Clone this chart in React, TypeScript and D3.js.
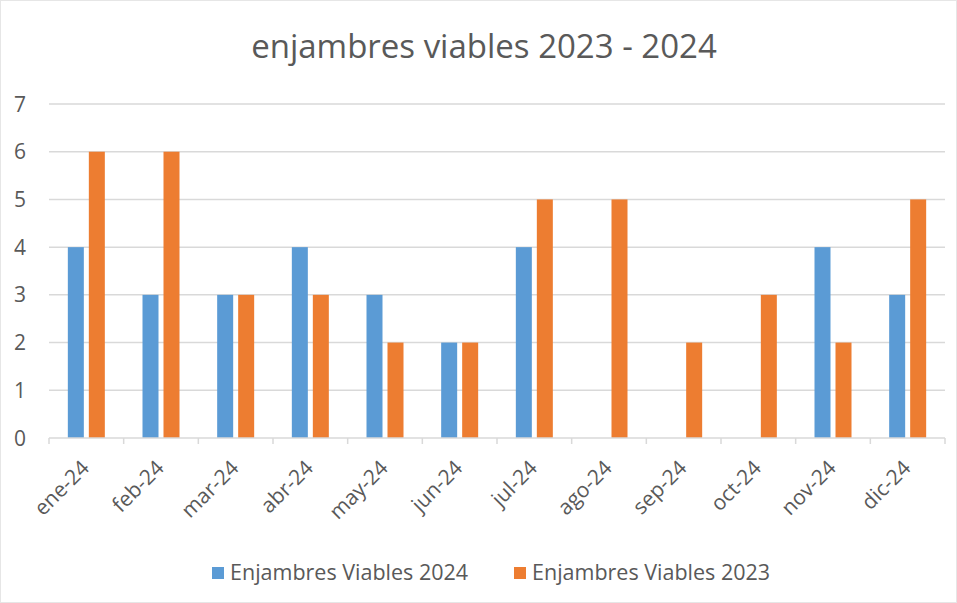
import React from "react";
import * as d3 from "d3";

const categories = ["ene-24","feb-24","mar-24","abr-24","may-24","jun-24","jul-24","ago-24","sep-24","oct-24","nov-24","dic-24"];
const series2024 = [4,3,3,4,3,2,4,0,0,0,4,3];
const series2023 = [6,6,3,3,2,2,5,5,2,3,2,5];
const seriesNames = ["Enjambres Viables 2024","Enjambres Viables 2023"];
const yTicks = [0,1,2,3,4,5,6,7];
const title = "enjambres viables 2023 - 2024";

const W = 957, H = 603;
const left = 49, right = 945, top = 104, bottom = 438;
const FONT = "'Open Sans', 'Liberation Sans', sans-serif";
const TEXT = "#595959";
const BLUE = "#5B9BD5";
const ORANGE = "#ED7D31";

export default function App() {
  const x = d3.scaleBand<string>().domain(categories).range([left, right]);
  const y = d3.scaleLinear().domain([0, 7]).range([bottom, top]);
  const bw = 16;
  const gap = 5;
  const data = categories.map((c, i) => ({ c, a: series2024[i], b: series2023[i] }));
  return (
    <svg width={W} height={H} style={{ position: "absolute", left: 0, top: 0, background: "#fff" }} fontFamily={FONT}>
      <rect x={0.5} y={0.5} width={W - 1} height={H - 1} fill="#fff" stroke="#e6e6e6" />
      <text x={484} y={58} textAnchor="middle" fontSize={33} fill={TEXT}>{title}</text>
      {yTicks.map(t => (
        <g key={t}>
          {t > 0 && <line x1={left} x2={right} y1={y(t)} y2={y(t)} stroke="#d9d9d9" strokeWidth={1.5} />}
          <text x={20} y={y(t) + 7.5} textAnchor="middle" fontSize={21} fill={TEXT}>{t}</text>
        </g>
      ))}
      {data.map(d => {
        const cx = (x(d.c) as number) + x.bandwidth() / 2;
        return (
          <g key={d.c}>
            <rect x={cx - gap / 2 - bw} y={y(d.a)} width={bw} height={y(0) - y(d.a)} fill={BLUE} />
            <rect x={cx + gap / 2} y={y(d.b)} width={bw} height={y(0) - y(d.b)} fill={ORANGE} />
          </g>
        );
      })}
      <line x1={left} x2={right} y1={bottom} y2={bottom} stroke="#d9d9d9" strokeWidth={1.5} />
      {categories.map(c => (
        <line key={"t" + c} x1={x(c) as number} x2={x(c) as number} y1={bottom} y2={bottom + 6} stroke="#d9d9d9" strokeWidth={1.5} />
      ))}
      <line x1={right} x2={right} y1={bottom} y2={bottom + 6} stroke="#d9d9d9" strokeWidth={1.5} />
      {categories.map(c => {
        const cx = (x(c) as number) + x.bandwidth() / 2;
        return (
          <text key={"l" + c} transform={`translate(${cx - 1},${bottom + 26}) rotate(-45)`} textAnchor="end" fontSize={21} fill={TEXT} dy="0.35em">{c}</text>
        );
      })}
      <rect x={212} y={567} width={12} height={12} fill={BLUE} />
      <text x={230} y={580} fontSize={21.5} fill={TEXT}>{seriesNames[0]}</text>
      <rect x={514} y={567} width={12} height={12} fill={ORANGE} />
      <text x={532} y={580} fontSize={21.5} fill={TEXT}>{seriesNames[1]}</text>
    </svg>
  );
}
